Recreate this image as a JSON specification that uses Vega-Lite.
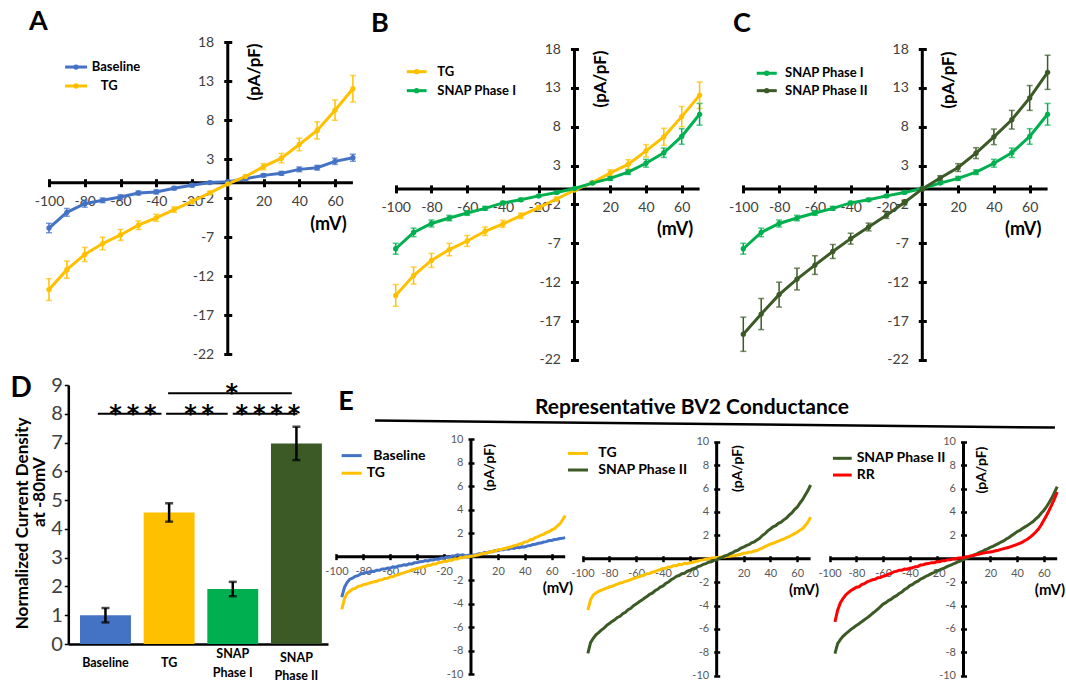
{
"$schema": "https://vega.github.io/schema/vega-lite/v6.json",
"width": 1066, "height": 684, "autosize": {"type": "none"}, "padding": 0,
"background": "white",
"config": {"view": {"stroke": null}, "font": "Lato", "axis": {"grid": false}},
"datasets": {
"iv": [
{"s":"Baseline","v":-100,"i":-5.81,"e":0.6},{"s":"Baseline","v":-90,"i":-3.8,"e":0.5},{"s":"Baseline","v":-80,"i":-2.69,"e":0.45},{"s":"Baseline","v":-70,"i":-2.26,"e":0.3},{"s":"Baseline","v":-60,"i":-1.84,"e":0.3},{"s":"Baseline","v":-50,"i":-1.32,"e":0.25},{"s":"Baseline","v":-40,"i":-1.18,"e":0.25},{"s":"Baseline","v":-30,"i":-0.7,"e":0.2},{"s":"Baseline","v":-20,"i":-0.32,"e":0.2},{"s":"Baseline","v":-10,"i":0.02,"e":0.15},{"s":"Baseline","v":0,"i":0.13,"e":0.15},{"s":"Baseline","v":10,"i":0.5,"e":0.15},{"s":"Baseline","v":20,"i":0.94,"e":0.2},{"s":"Baseline","v":30,"i":1.2,"e":0.25},{"s":"Baseline","v":40,"i":1.71,"e":0.3},{"s":"Baseline","v":50,"i":1.92,"e":0.3},{"s":"Baseline","v":60,"i":2.74,"e":0.4},{"s":"Baseline","v":70,"i":3.2,"e":0.45},
{"s":"TG","v":-100,"i":-13.7,"e":1.4},{"s":"TG","v":-90,"i":-11.15,"e":1.1},{"s":"TG","v":-80,"i":-9.2,"e":0.9},{"s":"TG","v":-70,"i":-7.8,"e":0.8},{"s":"TG","v":-60,"i":-6.7,"e":0.7},{"s":"TG","v":-50,"i":-5.45,"e":0.55},{"s":"TG","v":-40,"i":-4.5,"e":0.45},{"s":"TG","v":-30,"i":-3.45,"e":0.35},{"s":"TG","v":-20,"i":-2.4,"e":0.25},{"s":"TG","v":-10,"i":-1.3,"e":0.2},{"s":"TG","v":0,"i":-0.15,"e":0.15},{"s":"TG","v":10,"i":0.8,"e":0.2},{"s":"TG","v":20,"i":2.05,"e":0.4},{"s":"TG","v":30,"i":3.15,"e":0.6},{"s":"TG","v":40,"i":4.9,"e":0.8},{"s":"TG","v":50,"i":6.7,"e":1.1},{"s":"TG","v":60,"i":9.3,"e":1.3},{"s":"TG","v":70,"i":12.05,"e":1.7},
{"s":"SNAP Phase I","v":-100,"i":-7.7,"e":0.7},{"s":"SNAP Phase I","v":-90,"i":-5.6,"e":0.55},{"s":"SNAP Phase I","v":-80,"i":-4.45,"e":0.45},{"s":"SNAP Phase I","v":-70,"i":-3.75,"e":0.35},{"s":"SNAP Phase I","v":-60,"i":-3.1,"e":0.3},{"s":"SNAP Phase I","v":-50,"i":-2.5,"e":0.25},{"s":"SNAP Phase I","v":-40,"i":-1.8,"e":0.2},{"s":"SNAP Phase I","v":-30,"i":-1.4,"e":0.2},{"s":"SNAP Phase I","v":-20,"i":-0.9,"e":0.15},{"s":"SNAP Phase I","v":-10,"i":-0.45,"e":0.15},{"s":"SNAP Phase I","v":0,"i":0.05,"e":0.1},{"s":"SNAP Phase I","v":10,"i":0.75,"e":0.15},{"s":"SNAP Phase I","v":20,"i":1.35,"e":0.25},{"s":"SNAP Phase I","v":30,"i":2.15,"e":0.3},{"s":"SNAP Phase I","v":40,"i":3.3,"e":0.5},{"s":"SNAP Phase I","v":50,"i":4.65,"e":0.6},{"s":"SNAP Phase I","v":60,"i":6.75,"e":1.0},{"s":"SNAP Phase I","v":70,"i":9.6,"e":1.4},
{"s":"SNAP Phase II","v":-100,"i":-18.7,"e":2.2},{"s":"SNAP Phase II","v":-90,"i":-16.1,"e":2.0},{"s":"SNAP Phase II","v":-80,"i":-13.6,"e":1.6},{"s":"SNAP Phase II","v":-70,"i":-11.6,"e":1.4},{"s":"SNAP Phase II","v":-60,"i":-9.8,"e":1.2},{"s":"SNAP Phase II","v":-50,"i":-8.05,"e":0.9},{"s":"SNAP Phase II","v":-40,"i":-6.4,"e":0.7},{"s":"SNAP Phase II","v":-30,"i":-4.9,"e":0.5},{"s":"SNAP Phase II","v":-20,"i":-3.4,"e":0.4},{"s":"SNAP Phase II","v":-10,"i":-1.75,"e":0.3},{"s":"SNAP Phase II","v":0,"i":0.0,"e":0.2},{"s":"SNAP Phase II","v":10,"i":1.4,"e":0.3},{"s":"SNAP Phase II","v":20,"i":2.75,"e":0.5},{"s":"SNAP Phase II","v":30,"i":4.6,"e":0.7},{"s":"SNAP Phase II","v":40,"i":6.7,"e":1.0},{"s":"SNAP Phase II","v":50,"i":8.9,"e":1.2},{"s":"SNAP Phase II","v":60,"i":11.7,"e":1.6},{"s":"SNAP Phase II","v":70,"i":15.0,"e":2.2}
],
"bars": [
{"s":"Baseline","m":1.0,"e":0.25},{"s":"TG","m":4.57,"e":0.32},{"s":"SNAP Phase I","m":1.91,"e":0.25},{"s":"SNAP Phase II","m":6.97,"e":0.58}
],
"trace": [
{"p":"E1","s":"Baseline","v":-96,"i":-3.45},{"p":"E1","s":"Baseline","v":-94,"i":-2.62},{"p":"E1","s":"Baseline","v":-92,"i":-2.18},{"p":"E1","s":"Baseline","v":-90,"i":-1.92},{"p":"E1","s":"Baseline","v":-88,"i":-1.84},{"p":"E1","s":"Baseline","v":-86,"i":-1.68},{"p":"E1","s":"Baseline","v":-84,"i":-1.62},{"p":"E1","s":"Baseline","v":-82,"i":-1.47},{"p":"E1","s":"Baseline","v":-80,"i":-1.42},{"p":"E1","s":"Baseline","v":-78,"i":-1.36},{"p":"E1","s":"Baseline","v":-76,"i":-1.33},{"p":"E1","s":"Baseline","v":-74,"i":-1.24},{"p":"E1","s":"Baseline","v":-72,"i":-1.26},{"p":"E1","s":"Baseline","v":-70,"i":-1.15},{"p":"E1","s":"Baseline","v":-68,"i":-1.16},{"p":"E1","s":"Baseline","v":-66,"i":-1.05},{"p":"E1","s":"Baseline","v":-64,"i":-1.06},{"p":"E1","s":"Baseline","v":-62,"i":-0.97},{"p":"E1","s":"Baseline","v":-60,"i":-0.98},{"p":"E1","s":"Baseline","v":-58,"i":-0.87},{"p":"E1","s":"Baseline","v":-56,"i":-0.9},{"p":"E1","s":"Baseline","v":-54,"i":-0.8},{"p":"E1","s":"Baseline","v":-52,"i":-0.78},{"p":"E1","s":"Baseline","v":-50,"i":-0.7},{"p":"E1","s":"Baseline","v":-48,"i":-0.72},{"p":"E1","s":"Baseline","v":-46,"i":-0.61},{"p":"E1","s":"Baseline","v":-44,"i":-0.62},{"p":"E1","s":"Baseline","v":-42,"i":-0.52},{"p":"E1","s":"Baseline","v":-40,"i":-0.5},{"p":"E1","s":"Baseline","v":-38,"i":-0.44},{"p":"E1","s":"Baseline","v":-36,"i":-0.42},{"p":"E1","s":"Baseline","v":-34,"i":-0.34},{"p":"E1","s":"Baseline","v":-32,"i":-0.36},{"p":"E1","s":"Baseline","v":-30,"i":-0.27},{"p":"E1","s":"Baseline","v":-28,"i":-0.28},{"p":"E1","s":"Baseline","v":-26,"i":-0.2},{"p":"E1","s":"Baseline","v":-24,"i":-0.22},{"p":"E1","s":"Baseline","v":-22,"i":-0.12},{"p":"E1","s":"Baseline","v":-20,"i":-0.13},{"p":"E1","s":"Baseline","v":-18,"i":-0.04},{"p":"E1","s":"Baseline","v":-16,"i":-0.06},{"p":"E1","s":"Baseline","v":-14,"i":0.05},{"p":"E1","s":"Baseline","v":-12,"i":0.06},{"p":"E1","s":"Baseline","v":-10,"i":0.16},{"p":"E1","s":"Baseline","v":-8,"i":0.1},{"p":"E1","s":"Baseline","v":-6,"i":0.15},{"p":"E1","s":"Baseline","v":-4,"i":0.06},{"p":"E1","s":"Baseline","v":-2,"i":0.11},{"p":"E1","s":"Baseline","v":0,"i":0.05},{"p":"E1","s":"Baseline","v":2,"i":0.14},{"p":"E1","s":"Baseline","v":4,"i":0.16},{"p":"E1","s":"Baseline","v":6,"i":0.24},{"p":"E1","s":"Baseline","v":8,"i":0.24},{"p":"E1","s":"Baseline","v":10,"i":0.35},{"p":"E1","s":"Baseline","v":12,"i":0.32},{"p":"E1","s":"Baseline","v":14,"i":0.42},{"p":"E1","s":"Baseline","v":16,"i":0.42},{"p":"E1","s":"Baseline","v":18,"i":0.52},{"p":"E1","s":"Baseline","v":20,"i":0.5},{"p":"E1","s":"Baseline","v":22,"i":0.6},{"p":"E1","s":"Baseline","v":24,"i":0.58},{"p":"E1","s":"Baseline","v":26,"i":0.67},{"p":"E1","s":"Baseline","v":28,"i":0.64},{"p":"E1","s":"Baseline","v":30,"i":0.74},{"p":"E1","s":"Baseline","v":32,"i":0.7},{"p":"E1","s":"Baseline","v":34,"i":0.79},{"p":"E1","s":"Baseline","v":36,"i":0.76},{"p":"E1","s":"Baseline","v":38,"i":0.84},{"p":"E1","s":"Baseline","v":40,"i":0.83},{"p":"E1","s":"Baseline","v":42,"i":0.92},{"p":"E1","s":"Baseline","v":44,"i":0.94},{"p":"E1","s":"Baseline","v":46,"i":1.03},{"p":"E1","s":"Baseline","v":48,"i":1.06},{"p":"E1","s":"Baseline","v":50,"i":1.14},{"p":"E1","s":"Baseline","v":52,"i":1.16},{"p":"E1","s":"Baseline","v":54,"i":1.25},{"p":"E1","s":"Baseline","v":56,"i":1.28},{"p":"E1","s":"Baseline","v":58,"i":1.37},{"p":"E1","s":"Baseline","v":60,"i":1.38},{"p":"E1","s":"Baseline","v":62,"i":1.46},{"p":"E1","s":"Baseline","v":64,"i":1.48},{"p":"E1","s":"Baseline","v":66,"i":1.55},{"p":"E1","s":"Baseline","v":68,"i":1.56},{"p":"E1","s":"Baseline","v":70,"i":1.62},
{"p":"E1","s":"TG","v":-96,"i":-4.5},{"p":"E1","s":"TG","v":-94,"i":-3.58},{"p":"E1","s":"TG","v":-92,"i":-3.12},{"p":"E1","s":"TG","v":-90,"i":-2.95},{"p":"E1","s":"TG","v":-88,"i":-2.76},{"p":"E1","s":"TG","v":-86,"i":-2.7},{"p":"E1","s":"TG","v":-84,"i":-2.53},{"p":"E1","s":"TG","v":-82,"i":-2.5},{"p":"E1","s":"TG","v":-80,"i":-2.38},{"p":"E1","s":"TG","v":-78,"i":-2.35},{"p":"E1","s":"TG","v":-76,"i":-2.26},{"p":"E1","s":"TG","v":-74,"i":-2.21},{"p":"E1","s":"TG","v":-72,"i":-2.13},{"p":"E1","s":"TG","v":-70,"i":-2.1},{"p":"E1","s":"TG","v":-68,"i":-1.99},{"p":"E1","s":"TG","v":-66,"i":-1.97},{"p":"E1","s":"TG","v":-64,"i":-1.85},{"p":"E1","s":"TG","v":-62,"i":-1.84},{"p":"E1","s":"TG","v":-60,"i":-1.72},{"p":"E1","s":"TG","v":-58,"i":-1.71},{"p":"E1","s":"TG","v":-56,"i":-1.58},{"p":"E1","s":"TG","v":-54,"i":-1.54},{"p":"E1","s":"TG","v":-52,"i":-1.44},{"p":"E1","s":"TG","v":-50,"i":-1.38},{"p":"E1","s":"TG","v":-48,"i":-1.3},{"p":"E1","s":"TG","v":-46,"i":-1.24},{"p":"E1","s":"TG","v":-44,"i":-1.14},{"p":"E1","s":"TG","v":-42,"i":-1.08},{"p":"E1","s":"TG","v":-40,"i":-1.0},{"p":"E1","s":"TG","v":-38,"i":-0.96},{"p":"E1","s":"TG","v":-36,"i":-0.87},{"p":"E1","s":"TG","v":-34,"i":-0.84},{"p":"E1","s":"TG","v":-32,"i":-0.74},{"p":"E1","s":"TG","v":-30,"i":-0.73},{"p":"E1","s":"TG","v":-28,"i":-0.62},{"p":"E1","s":"TG","v":-26,"i":-0.62},{"p":"E1","s":"TG","v":-24,"i":-0.49},{"p":"E1","s":"TG","v":-22,"i":-0.48},{"p":"E1","s":"TG","v":-20,"i":-0.38},{"p":"E1","s":"TG","v":-18,"i":-0.4},{"p":"E1","s":"TG","v":-16,"i":-0.28},{"p":"E1","s":"TG","v":-14,"i":-0.3},{"p":"E1","s":"TG","v":-12,"i":-0.18},{"p":"E1","s":"TG","v":-10,"i":-0.2},{"p":"E1","s":"TG","v":-8,"i":-0.08},{"p":"E1","s":"TG","v":-6,"i":-0.1},{"p":"E1","s":"TG","v":-4,"i":0.0},{"p":"E1","s":"TG","v":-2,"i":0.0},{"p":"E1","s":"TG","v":0,"i":0.04},{"p":"E1","s":"TG","v":2,"i":0.06},{"p":"E1","s":"TG","v":4,"i":0.12},{"p":"E1","s":"TG","v":6,"i":0.16},{"p":"E1","s":"TG","v":8,"i":0.24},{"p":"E1","s":"TG","v":10,"i":0.26},{"p":"E1","s":"TG","v":12,"i":0.34},{"p":"E1","s":"TG","v":14,"i":0.38},{"p":"E1","s":"TG","v":16,"i":0.46},{"p":"E1","s":"TG","v":18,"i":0.48},{"p":"E1","s":"TG","v":20,"i":0.58},{"p":"E1","s":"TG","v":22,"i":0.6},{"p":"E1","s":"TG","v":24,"i":0.68},{"p":"E1","s":"TG","v":26,"i":0.72},{"p":"E1","s":"TG","v":28,"i":0.8},{"p":"E1","s":"TG","v":30,"i":0.84},{"p":"E1","s":"TG","v":32,"i":0.94},{"p":"E1","s":"TG","v":34,"i":0.98},{"p":"E1","s":"TG","v":36,"i":1.08},{"p":"E1","s":"TG","v":38,"i":1.12},{"p":"E1","s":"TG","v":40,"i":1.26},{"p":"E1","s":"TG","v":42,"i":1.28},{"p":"E1","s":"TG","v":44,"i":1.44},{"p":"E1","s":"TG","v":46,"i":1.48},{"p":"E1","s":"TG","v":48,"i":1.64},{"p":"E1","s":"TG","v":50,"i":1.7},{"p":"E1","s":"TG","v":52,"i":1.84},{"p":"E1","s":"TG","v":54,"i":1.9},{"p":"E1","s":"TG","v":56,"i":2.06},{"p":"E1","s":"TG","v":58,"i":2.12},{"p":"E1","s":"TG","v":60,"i":2.28},{"p":"E1","s":"TG","v":62,"i":2.38},{"p":"E1","s":"TG","v":64,"i":2.6},{"p":"E1","s":"TG","v":66,"i":2.78},{"p":"E1","s":"TG","v":68,"i":3.12},{"p":"E1","s":"TG","v":70,"i":3.5},
{"p":"E2","s":"TG","v":-96,"i":-4.4},{"p":"E2","s":"TG","v":-94,"i":-3.52},{"p":"E2","s":"TG","v":-92,"i":-3.1},{"p":"E2","s":"TG","v":-90,"i":-2.94},{"p":"E2","s":"TG","v":-88,"i":-2.78},{"p":"E2","s":"TG","v":-86,"i":-2.7},{"p":"E2","s":"TG","v":-84,"i":-2.6},{"p":"E2","s":"TG","v":-82,"i":-2.52},{"p":"E2","s":"TG","v":-80,"i":-2.42},{"p":"E2","s":"TG","v":-78,"i":-2.36},{"p":"E2","s":"TG","v":-76,"i":-2.26},{"p":"E2","s":"TG","v":-74,"i":-2.18},{"p":"E2","s":"TG","v":-72,"i":-2.08},{"p":"E2","s":"TG","v":-70,"i":-2.02},{"p":"E2","s":"TG","v":-68,"i":-1.94},{"p":"E2","s":"TG","v":-66,"i":-1.88},{"p":"E2","s":"TG","v":-64,"i":-1.78},{"p":"E2","s":"TG","v":-62,"i":-1.7},{"p":"E2","s":"TG","v":-60,"i":-1.62},{"p":"E2","s":"TG","v":-58,"i":-1.56},{"p":"E2","s":"TG","v":-56,"i":-1.46},{"p":"E2","s":"TG","v":-54,"i":-1.4},{"p":"E2","s":"TG","v":-52,"i":-1.28},{"p":"E2","s":"TG","v":-50,"i":-1.26},{"p":"E2","s":"TG","v":-48,"i":-1.16},{"p":"E2","s":"TG","v":-46,"i":-1.1},{"p":"E2","s":"TG","v":-44,"i":-1.0},{"p":"E2","s":"TG","v":-42,"i":-0.94},{"p":"E2","s":"TG","v":-40,"i":-0.84},{"p":"E2","s":"TG","v":-38,"i":-0.82},{"p":"E2","s":"TG","v":-36,"i":-0.7},{"p":"E2","s":"TG","v":-34,"i":-0.7},{"p":"E2","s":"TG","v":-32,"i":-0.58},{"p":"E2","s":"TG","v":-30,"i":-0.6},{"p":"E2","s":"TG","v":-28,"i":-0.48},{"p":"E2","s":"TG","v":-26,"i":-0.5},{"p":"E2","s":"TG","v":-24,"i":-0.4},{"p":"E2","s":"TG","v":-22,"i":-0.42},{"p":"E2","s":"TG","v":-20,"i":-0.34},{"p":"E2","s":"TG","v":-18,"i":-0.32},{"p":"E2","s":"TG","v":-16,"i":-0.24},{"p":"E2","s":"TG","v":-14,"i":-0.2},{"p":"E2","s":"TG","v":-12,"i":-0.12},{"p":"E2","s":"TG","v":-10,"i":-0.1},{"p":"E2","s":"TG","v":-8,"i":-0.02},{"p":"E2","s":"TG","v":-6,"i":0.0},{"p":"E2","s":"TG","v":-4,"i":0.06},{"p":"E2","s":"TG","v":-2,"i":0.06},{"p":"E2","s":"TG","v":0,"i":0.1},{"p":"E2","s":"TG","v":2,"i":0.1},{"p":"E2","s":"TG","v":4,"i":0.16},{"p":"E2","s":"TG","v":6,"i":0.14},{"p":"E2","s":"TG","v":8,"i":0.2},{"p":"E2","s":"TG","v":10,"i":0.2},{"p":"E2","s":"TG","v":12,"i":0.26},{"p":"E2","s":"TG","v":14,"i":0.28},{"p":"E2","s":"TG","v":16,"i":0.34},{"p":"E2","s":"TG","v":18,"i":0.38},{"p":"E2","s":"TG","v":20,"i":0.46},{"p":"E2","s":"TG","v":22,"i":0.48},{"p":"E2","s":"TG","v":24,"i":0.56},{"p":"E2","s":"TG","v":26,"i":0.58},{"p":"E2","s":"TG","v":28,"i":0.66},{"p":"E2","s":"TG","v":30,"i":0.7},{"p":"E2","s":"TG","v":32,"i":0.82},{"p":"E2","s":"TG","v":34,"i":0.9},{"p":"E2","s":"TG","v":36,"i":1.04},{"p":"E2","s":"TG","v":38,"i":1.14},{"p":"E2","s":"TG","v":40,"i":1.24},{"p":"E2","s":"TG","v":42,"i":1.32},{"p":"E2","s":"TG","v":44,"i":1.42},{"p":"E2","s":"TG","v":46,"i":1.5},{"p":"E2","s":"TG","v":48,"i":1.6},{"p":"E2","s":"TG","v":50,"i":1.68},{"p":"E2","s":"TG","v":52,"i":1.8},{"p":"E2","s":"TG","v":54,"i":1.88},{"p":"E2","s":"TG","v":56,"i":2.02},{"p":"E2","s":"TG","v":58,"i":2.14},{"p":"E2","s":"TG","v":60,"i":2.26},{"p":"E2","s":"TG","v":62,"i":2.44},{"p":"E2","s":"TG","v":64,"i":2.56},{"p":"E2","s":"TG","v":66,"i":2.84},{"p":"E2","s":"TG","v":68,"i":3.12},{"p":"E2","s":"TG","v":70,"i":3.55},
{"p":"E2","s":"SNAP Phase II","v":-96,"i":-8.1},{"p":"E2","s":"SNAP Phase II","v":-94,"i":-7.18},{"p":"E2","s":"SNAP Phase II","v":-92,"i":-6.8},{"p":"E2","s":"SNAP Phase II","v":-90,"i":-6.5},{"p":"E2","s":"SNAP Phase II","v":-88,"i":-6.32},{"p":"E2","s":"SNAP Phase II","v":-86,"i":-6.1},{"p":"E2","s":"SNAP Phase II","v":-84,"i":-5.94},{"p":"E2","s":"SNAP Phase II","v":-82,"i":-5.7},{"p":"E2","s":"SNAP Phase II","v":-80,"i":-5.54},{"p":"E2","s":"SNAP Phase II","v":-78,"i":-5.36},{"p":"E2","s":"SNAP Phase II","v":-76,"i":-5.22},{"p":"E2","s":"SNAP Phase II","v":-74,"i":-5.02},{"p":"E2","s":"SNAP Phase II","v":-72,"i":-4.92},{"p":"E2","s":"SNAP Phase II","v":-70,"i":-4.7},{"p":"E2","s":"SNAP Phase II","v":-68,"i":-4.58},{"p":"E2","s":"SNAP Phase II","v":-66,"i":-4.36},{"p":"E2","s":"SNAP Phase II","v":-64,"i":-4.24},{"p":"E2","s":"SNAP Phase II","v":-62,"i":-4.02},{"p":"E2","s":"SNAP Phase II","v":-60,"i":-3.88},{"p":"E2","s":"SNAP Phase II","v":-58,"i":-3.7},{"p":"E2","s":"SNAP Phase II","v":-56,"i":-3.56},{"p":"E2","s":"SNAP Phase II","v":-54,"i":-3.38},{"p":"E2","s":"SNAP Phase II","v":-52,"i":-3.24},{"p":"E2","s":"SNAP Phase II","v":-50,"i":-3.04},{"p":"E2","s":"SNAP Phase II","v":-48,"i":-2.94},{"p":"E2","s":"SNAP Phase II","v":-46,"i":-2.74},{"p":"E2","s":"SNAP Phase II","v":-44,"i":-2.62},{"p":"E2","s":"SNAP Phase II","v":-42,"i":-2.42},{"p":"E2","s":"SNAP Phase II","v":-40,"i":-2.32},{"p":"E2","s":"SNAP Phase II","v":-38,"i":-2.12},{"p":"E2","s":"SNAP Phase II","v":-36,"i":-2.0},{"p":"E2","s":"SNAP Phase II","v":-34,"i":-1.8},{"p":"E2","s":"SNAP Phase II","v":-32,"i":-1.68},{"p":"E2","s":"SNAP Phase II","v":-30,"i":-1.5},{"p":"E2","s":"SNAP Phase II","v":-28,"i":-1.44},{"p":"E2","s":"SNAP Phase II","v":-26,"i":-1.28},{"p":"E2","s":"SNAP Phase II","v":-24,"i":-1.24},{"p":"E2","s":"SNAP Phase II","v":-22,"i":-1.08},{"p":"E2","s":"SNAP Phase II","v":-20,"i":-1.02},{"p":"E2","s":"SNAP Phase II","v":-18,"i":-0.88},{"p":"E2","s":"SNAP Phase II","v":-16,"i":-0.82},{"p":"E2","s":"SNAP Phase II","v":-14,"i":-0.68},{"p":"E2","s":"SNAP Phase II","v":-12,"i":-0.62},{"p":"E2","s":"SNAP Phase II","v":-10,"i":-0.48},{"p":"E2","s":"SNAP Phase II","v":-8,"i":-0.42},{"p":"E2","s":"SNAP Phase II","v":-6,"i":-0.3},{"p":"E2","s":"SNAP Phase II","v":-4,"i":-0.26},{"p":"E2","s":"SNAP Phase II","v":-2,"i":-0.14},{"p":"E2","s":"SNAP Phase II","v":0,"i":-0.1},{"p":"E2","s":"SNAP Phase II","v":2,"i":0.04},{"p":"E2","s":"SNAP Phase II","v":4,"i":0.1},{"p":"E2","s":"SNAP Phase II","v":6,"i":0.24},{"p":"E2","s":"SNAP Phase II","v":8,"i":0.3},{"p":"E2","s":"SNAP Phase II","v":10,"i":0.44},{"p":"E2","s":"SNAP Phase II","v":12,"i":0.52},{"p":"E2","s":"SNAP Phase II","v":14,"i":0.66},{"p":"E2","s":"SNAP Phase II","v":16,"i":0.74},{"p":"E2","s":"SNAP Phase II","v":18,"i":0.9},{"p":"E2","s":"SNAP Phase II","v":20,"i":0.98},{"p":"E2","s":"SNAP Phase II","v":22,"i":1.12},{"p":"E2","s":"SNAP Phase II","v":24,"i":1.2},{"p":"E2","s":"SNAP Phase II","v":26,"i":1.36},{"p":"E2","s":"SNAP Phase II","v":28,"i":1.44},{"p":"E2","s":"SNAP Phase II","v":30,"i":1.6},{"p":"E2","s":"SNAP Phase II","v":32,"i":1.74},{"p":"E2","s":"SNAP Phase II","v":34,"i":1.98},{"p":"E2","s":"SNAP Phase II","v":36,"i":2.14},{"p":"E2","s":"SNAP Phase II","v":38,"i":2.38},{"p":"E2","s":"SNAP Phase II","v":40,"i":2.54},{"p":"E2","s":"SNAP Phase II","v":42,"i":2.72},{"p":"E2","s":"SNAP Phase II","v":44,"i":2.82},{"p":"E2","s":"SNAP Phase II","v":46,"i":3.02},{"p":"E2","s":"SNAP Phase II","v":48,"i":3.12},{"p":"E2","s":"SNAP Phase II","v":50,"i":3.32},{"p":"E2","s":"SNAP Phase II","v":52,"i":3.48},{"p":"E2","s":"SNAP Phase II","v":54,"i":3.72},{"p":"E2","s":"SNAP Phase II","v":56,"i":3.92},{"p":"E2","s":"SNAP Phase II","v":58,"i":4.2},{"p":"E2","s":"SNAP Phase II","v":60,"i":4.4},{"p":"E2","s":"SNAP Phase II","v":62,"i":4.74},{"p":"E2","s":"SNAP Phase II","v":64,"i":5.04},{"p":"E2","s":"SNAP Phase II","v":66,"i":5.44},{"p":"E2","s":"SNAP Phase II","v":68,"i":5.82},{"p":"E2","s":"SNAP Phase II","v":70,"i":6.3},
{"p":"E3","s":"SNAP Phase II","v":-96,"i":-8.12},{"p":"E3","s":"SNAP Phase II","v":-94,"i":-7.26},{"p":"E3","s":"SNAP Phase II","v":-92,"i":-6.92},{"p":"E3","s":"SNAP Phase II","v":-90,"i":-6.64},{"p":"E3","s":"SNAP Phase II","v":-88,"i":-6.42},{"p":"E3","s":"SNAP Phase II","v":-86,"i":-6.24},{"p":"E3","s":"SNAP Phase II","v":-84,"i":-6.04},{"p":"E3","s":"SNAP Phase II","v":-82,"i":-5.88},{"p":"E3","s":"SNAP Phase II","v":-80,"i":-5.7},{"p":"E3","s":"SNAP Phase II","v":-78,"i":-5.56},{"p":"E3","s":"SNAP Phase II","v":-76,"i":-5.38},{"p":"E3","s":"SNAP Phase II","v":-74,"i":-5.22},{"p":"E3","s":"SNAP Phase II","v":-72,"i":-5.06},{"p":"E3","s":"SNAP Phase II","v":-70,"i":-4.88},{"p":"E3","s":"SNAP Phase II","v":-68,"i":-4.68},{"p":"E3","s":"SNAP Phase II","v":-66,"i":-4.5},{"p":"E3","s":"SNAP Phase II","v":-64,"i":-4.3},{"p":"E3","s":"SNAP Phase II","v":-62,"i":-4.1},{"p":"E3","s":"SNAP Phase II","v":-60,"i":-3.88},{"p":"E3","s":"SNAP Phase II","v":-58,"i":-3.76},{"p":"E3","s":"SNAP Phase II","v":-56,"i":-3.58},{"p":"E3","s":"SNAP Phase II","v":-54,"i":-3.46},{"p":"E3","s":"SNAP Phase II","v":-52,"i":-3.28},{"p":"E3","s":"SNAP Phase II","v":-50,"i":-3.16},{"p":"E3","s":"SNAP Phase II","v":-48,"i":-2.98},{"p":"E3","s":"SNAP Phase II","v":-46,"i":-2.84},{"p":"E3","s":"SNAP Phase II","v":-44,"i":-2.64},{"p":"E3","s":"SNAP Phase II","v":-42,"i":-2.5},{"p":"E3","s":"SNAP Phase II","v":-40,"i":-2.3},{"p":"E3","s":"SNAP Phase II","v":-38,"i":-2.2},{"p":"E3","s":"SNAP Phase II","v":-36,"i":-2.02},{"p":"E3","s":"SNAP Phase II","v":-34,"i":-1.92},{"p":"E3","s":"SNAP Phase II","v":-32,"i":-1.74},{"p":"E3","s":"SNAP Phase II","v":-30,"i":-1.64},{"p":"E3","s":"SNAP Phase II","v":-28,"i":-1.5},{"p":"E3","s":"SNAP Phase II","v":-26,"i":-1.4},{"p":"E3","s":"SNAP Phase II","v":-24,"i":-1.28},{"p":"E3","s":"SNAP Phase II","v":-22,"i":-1.18},{"p":"E3","s":"SNAP Phase II","v":-20,"i":-1.06},{"p":"E3","s":"SNAP Phase II","v":-18,"i":-0.98},{"p":"E3","s":"SNAP Phase II","v":-16,"i":-0.86},{"p":"E3","s":"SNAP Phase II","v":-14,"i":-0.78},{"p":"E3","s":"SNAP Phase II","v":-12,"i":-0.66},{"p":"E3","s":"SNAP Phase II","v":-10,"i":-0.58},{"p":"E3","s":"SNAP Phase II","v":-8,"i":-0.46},{"p":"E3","s":"SNAP Phase II","v":-6,"i":-0.38},{"p":"E3","s":"SNAP Phase II","v":-4,"i":-0.26},{"p":"E3","s":"SNAP Phase II","v":-2,"i":-0.18},{"p":"E3","s":"SNAP Phase II","v":0,"i":-0.08},{"p":"E3","s":"SNAP Phase II","v":2,"i":0.02},{"p":"E3","s":"SNAP Phase II","v":4,"i":0.12},{"p":"E3","s":"SNAP Phase II","v":6,"i":0.2},{"p":"E3","s":"SNAP Phase II","v":8,"i":0.32},{"p":"E3","s":"SNAP Phase II","v":10,"i":0.42},{"p":"E3","s":"SNAP Phase II","v":12,"i":0.54},{"p":"E3","s":"SNAP Phase II","v":14,"i":0.62},{"p":"E3","s":"SNAP Phase II","v":16,"i":0.76},{"p":"E3","s":"SNAP Phase II","v":18,"i":0.84},{"p":"E3","s":"SNAP Phase II","v":20,"i":0.96},{"p":"E3","s":"SNAP Phase II","v":22,"i":1.06},{"p":"E3","s":"SNAP Phase II","v":24,"i":1.18},{"p":"E3","s":"SNAP Phase II","v":26,"i":1.28},{"p":"E3","s":"SNAP Phase II","v":28,"i":1.42},{"p":"E3","s":"SNAP Phase II","v":30,"i":1.52},{"p":"E3","s":"SNAP Phase II","v":32,"i":1.68},{"p":"E3","s":"SNAP Phase II","v":34,"i":1.82},{"p":"E3","s":"SNAP Phase II","v":36,"i":1.98},{"p":"E3","s":"SNAP Phase II","v":38,"i":2.14},{"p":"E3","s":"SNAP Phase II","v":40,"i":2.3},{"p":"E3","s":"SNAP Phase II","v":42,"i":2.42},{"p":"E3","s":"SNAP Phase II","v":44,"i":2.58},{"p":"E3","s":"SNAP Phase II","v":46,"i":2.72},{"p":"E3","s":"SNAP Phase II","v":48,"i":2.86},{"p":"E3","s":"SNAP Phase II","v":50,"i":3.02},{"p":"E3","s":"SNAP Phase II","v":52,"i":3.18},{"p":"E3","s":"SNAP Phase II","v":54,"i":3.4},{"p":"E3","s":"SNAP Phase II","v":56,"i":3.6},{"p":"E3","s":"SNAP Phase II","v":58,"i":3.88},{"p":"E3","s":"SNAP Phase II","v":60,"i":4.12},{"p":"E3","s":"SNAP Phase II","v":62,"i":4.44},{"p":"E3","s":"SNAP Phase II","v":64,"i":4.8},{"p":"E3","s":"SNAP Phase II","v":66,"i":5.2},{"p":"E3","s":"SNAP Phase II","v":68,"i":5.66},{"p":"E3","s":"SNAP Phase II","v":70,"i":6.16},
{"p":"E3","s":"RR","v":-96,"i":-5.4},{"p":"E3","s":"RR","v":-94,"i":-4.4},{"p":"E3","s":"RR","v":-92,"i":-3.78},{"p":"E3","s":"RR","v":-90,"i":-3.4},{"p":"E3","s":"RR","v":-88,"i":-3.1},{"p":"E3","s":"RR","v":-86,"i":-2.9},{"p":"E3","s":"RR","v":-84,"i":-2.72},{"p":"E3","s":"RR","v":-82,"i":-2.58},{"p":"E3","s":"RR","v":-80,"i":-2.44},{"p":"E3","s":"RR","v":-78,"i":-2.4},{"p":"E3","s":"RR","v":-76,"i":-2.22},{"p":"E3","s":"RR","v":-74,"i":-2.14},{"p":"E3","s":"RR","v":-72,"i":-1.98},{"p":"E3","s":"RR","v":-70,"i":-1.9},{"p":"E3","s":"RR","v":-68,"i":-1.8},{"p":"E3","s":"RR","v":-66,"i":-1.76},{"p":"E3","s":"RR","v":-64,"i":-1.62},{"p":"E3","s":"RR","v":-62,"i":-1.6},{"p":"E3","s":"RR","v":-60,"i":-1.5},{"p":"E3","s":"RR","v":-58,"i":-1.44},{"p":"E3","s":"RR","v":-56,"i":-1.32},{"p":"E3","s":"RR","v":-54,"i":-1.26},{"p":"E3","s":"RR","v":-52,"i":-1.12},{"p":"E3","s":"RR","v":-50,"i":-1.08},{"p":"E3","s":"RR","v":-48,"i":-0.98},{"p":"E3","s":"RR","v":-46,"i":-0.98},{"p":"E3","s":"RR","v":-44,"i":-0.88},{"p":"E3","s":"RR","v":-42,"i":-0.9},{"p":"E3","s":"RR","v":-40,"i":-0.82},{"p":"E3","s":"RR","v":-38,"i":-0.78},{"p":"E3","s":"RR","v":-36,"i":-0.68},{"p":"E3","s":"RR","v":-34,"i":-0.66},{"p":"E3","s":"RR","v":-32,"i":-0.54},{"p":"E3","s":"RR","v":-30,"i":-0.52},{"p":"E3","s":"RR","v":-28,"i":-0.44},{"p":"E3","s":"RR","v":-26,"i":-0.42},{"p":"E3","s":"RR","v":-24,"i":-0.34},{"p":"E3","s":"RR","v":-22,"i":-0.34},{"p":"E3","s":"RR","v":-20,"i":-0.26},{"p":"E3","s":"RR","v":-18,"i":-0.26},{"p":"E3","s":"RR","v":-16,"i":-0.18},{"p":"E3","s":"RR","v":-14,"i":-0.18},{"p":"E3","s":"RR","v":-12,"i":-0.1},{"p":"E3","s":"RR","v":-10,"i":-0.1},{"p":"E3","s":"RR","v":-8,"i":-0.02},{"p":"E3","s":"RR","v":-6,"i":-0.02},{"p":"E3","s":"RR","v":-4,"i":0.06},{"p":"E3","s":"RR","v":-2,"i":0.06},{"p":"E3","s":"RR","v":0,"i":0.1},{"p":"E3","s":"RR","v":2,"i":0.16},{"p":"E3","s":"RR","v":4,"i":0.2},{"p":"E3","s":"RR","v":6,"i":0.26},{"p":"E3","s":"RR","v":8,"i":0.3},{"p":"E3","s":"RR","v":10,"i":0.36},{"p":"E3","s":"RR","v":12,"i":0.4},{"p":"E3","s":"RR","v":14,"i":0.46},{"p":"E3","s":"RR","v":16,"i":0.5},{"p":"E3","s":"RR","v":18,"i":0.54},{"p":"E3","s":"RR","v":20,"i":0.58},{"p":"E3","s":"RR","v":22,"i":0.62},{"p":"E3","s":"RR","v":24,"i":0.68},{"p":"E3","s":"RR","v":26,"i":0.72},{"p":"E3","s":"RR","v":28,"i":0.8},{"p":"E3","s":"RR","v":30,"i":0.86},{"p":"E3","s":"RR","v":32,"i":0.92},{"p":"E3","s":"RR","v":34,"i":0.98},{"p":"E3","s":"RR","v":36,"i":1.06},{"p":"E3","s":"RR","v":38,"i":1.14},{"p":"E3","s":"RR","v":40,"i":1.22},{"p":"E3","s":"RR","v":42,"i":1.32},{"p":"E3","s":"RR","v":44,"i":1.42},{"p":"E3","s":"RR","v":46,"i":1.56},{"p":"E3","s":"RR","v":48,"i":1.68},{"p":"E3","s":"RR","v":50,"i":1.86},{"p":"E3","s":"RR","v":52,"i":2.06},{"p":"E3","s":"RR","v":54,"i":2.28},{"p":"E3","s":"RR","v":56,"i":2.54},{"p":"E3","s":"RR","v":58,"i":2.88},{"p":"E3","s":"RR","v":60,"i":3.28},{"p":"E3","s":"RR","v":62,"i":3.7},{"p":"E3","s":"RR","v":64,"i":4.14},{"p":"E3","s":"RR","v":66,"i":4.62},{"p":"E3","s":"RR","v":68,"i":5.14},{"p":"E3","s":"RR","v":70,"i":5.7}
]
},
"resolve": {"scale": {"x": "independent", "y": "independent"}},
"layer": [
{
"layer": [
{"data": {"values": [{}]}, "layer": [
{"mark": {"type": "rule", "strokeWidth": 3, "color": "black"}, "encoding": {"x": {"datum": -100}, "x2": {"datum": 70}, "y": {"datum": 0}}},
{"mark": {"type": "rule", "strokeWidth": 3, "color": "black"}, "encoding": {"x": {"datum": 0}, "y": {"datum": -22}, "y2": {"datum": 18}}},
{"mark": {"type": "text", "text": "A", "fontSize": 27, "fontWeight": "bold", "align": "center", "baseline": "middle", "color": "black"}, "encoding": {"x": {"datum": -105.9}, "y": {"datum": 20.54}}},
{"mark": {"type": "text", "text": "(pA/pF)", "fontSize": 17, "fontWeight": "bold", "align": "center", "baseline": "middle", "angle": 270, "color": "black"}, "encoding": {"x": {"datum": 15.2}, "y": {"datum": 14.2}}},
{"mark": {"type": "text", "text": "(mV)", "fontSize": 18, "fontWeight": "bold", "align": "center", "baseline": "middle", "color": "black"}, "encoding": {"x": {"datum": 56.3}, "y": {"datum": -5.42}}}
]},
{"data": {"name": "iv"}, "transform": [{"filter": {"field": "s", "oneOf": ["Baseline", "TG"]}}],
"encoding": {
"x": {"field": "v", "type": "quantitative", "scale": {"domain": [-100, 70], "range": [49, 352.9], "nice": false, "zero": false}, "axis": {"orient": "bottom", "offset": -505.3, "title": null, "values": [-100,-80,-60,-40,-20,20,40,60], "labelExpr": "'' + datum.value", "domain": false, "grid": false, "tickSize": 8, "tickWidth": 3, "tickColor": "black", "labelFontSize": 14, "labelColor": "#404040", "labelPadding": 8, "labelOverlap": false, "labelFlush": false, "labelBound": false}},
"y": {"field": "i", "type": "quantitative", "scale": {"domain": [-22, 18], "range": [354.3, 42.3], "nice": false, "zero": false}, "axis": {"orient": "left", "offset": -231.75, "title": null, "values": [-22,-17,-12,-7,-2,3,8,13,18], "labelExpr": "'' + datum.value", "domain": false, "grid": false, "tickSize": 8, "tickWidth": 3, "tickColor": "black", "labelFontSize": 14, "labelColor": "#404040", "labelPadding": 10, "labelOverlap": false, "labelFlush": false, "labelBound": false}},
"color": {"field": "s", "type": "nominal", "scale": {"domain": ["Baseline","TG","SNAP Phase I","SNAP Phase II","RR"], "range": ["#4472C4","#FFC000","#00B050","#3B5A26","#FF0000"]}, "legend": null}
},
"layer": [
{"mark": {"type": "errorbar", "ticks": true, "thickness": 1.5, "size": 6}, "encoding": {"yError": {"field": "e"}}},
{"mark": {"type": "line", "strokeWidth": 3}},
{"mark": {"type": "point", "filled": true, "size": 28, "opacity": 1}}
]},
{"data": {"values": [{"s": "Baseline"}]}, "encoding": {"y": {"datum": 14.83}, "color": {"field": "s", "type": "nominal", "legend": null}}, "layer": [
{"mark": {"type": "rule", "strokeWidth": 3}, "encoding": {"x": {"datum": -91}, "x2": {"datum": -78.7}}},
{"mark": {"type": "point", "filled": true, "size": 28, "opacity": 1}, "encoding": {"x": {"datum": -84.9}}},
{"mark": {"type": "text", "align": "left", "baseline": "middle", "fontSize": 13, "fontWeight": "bold"}, "encoding": {"x": {"datum": -76.1}, "text": {"field": "s"}, "color": {"value": "black"}}}
]},
{"data": {"values": [{"s": "TG"}]}, "encoding": {"y": {"datum": 12.4}, "color": {"field": "s", "type": "nominal", "legend": null}}, "layer": [
{"mark": {"type": "rule", "strokeWidth": 3}, "encoding": {"x": {"datum": -91}, "x2": {"datum": -78.7}}},
{"mark": {"type": "point", "filled": true, "size": 28, "opacity": 1}, "encoding": {"x": {"datum": -84.9}}},
{"mark": {"type": "text", "align": "left", "baseline": "middle", "fontSize": 13, "fontWeight": "bold"}, "encoding": {"x": {"datum": -71.1}, "text": {"field": "s"}, "color": {"value": "black"}}}
]}
]
},
{
"layer": [
{"data": {"values": [{}]}, "layer": [
{"mark": {"type": "rule", "strokeWidth": 3, "color": "black"}, "encoding": {"x": {"datum": -100}, "x2": {"datum": 70}, "y": {"datum": 0}}},
{"mark": {"type": "rule", "strokeWidth": 3, "color": "black"}, "encoding": {"x": {"datum": 0}, "y": {"datum": -22}, "y2": {"datum": 18}}},
{"mark": {"type": "text", "text": "B", "fontSize": 27, "fontWeight": "bold", "align": "center", "baseline": "middle", "color": "black"}, "encoding": {"x": {"datum": -108.8}, "y": {"datum": 21.2}}},
{"mark": {"type": "text", "text": "(pA/pF)", "fontSize": 17, "fontWeight": "bold", "align": "center", "baseline": "middle", "angle": 270, "color": "black"}, "encoding": {"x": {"datum": 14.85}, "y": {"datum": 14.14}}},
{"mark": {"type": "text", "text": "(mV)", "fontSize": 18, "fontWeight": "bold", "align": "center", "baseline": "middle", "color": "black"}, "encoding": {"x": {"datum": 56.3}, "y": {"datum": -5.29}}}
]},
{"data": {"name": "iv"}, "transform": [{"filter": {"field": "s", "oneOf": ["TG", "SNAP Phase I"]}}],
"encoding": {
"x": {"field": "v", "type": "quantitative", "scale": {"domain": [-100, 70], "range": [395.7, 699.6], "nice": false, "zero": false}, "axis": {"orient": "bottom", "offset": -499.1, "title": null, "values": [-100,-80,-60,-40,-20,20,40,60], "labelExpr": "'' + datum.value", "domain": false, "grid": false, "tickSize": 8, "tickWidth": 3, "tickColor": "black", "labelFontSize": 14, "labelColor": "#404040", "labelPadding": 8, "labelOverlap": false, "labelFlush": false, "labelBound": false}},
"y": {"field": "i", "type": "quantitative", "scale": {"domain": [-22, 18], "range": [359.9, 49], "nice": false, "zero": false}, "axis": {"orient": "left", "offset": -578.45, "title": null, "values": [-22,-17,-12,-7,-2,3,8,13,18], "labelExpr": "'' + datum.value", "domain": false, "grid": false, "tickSize": 8, "tickWidth": 3, "tickColor": "black", "labelFontSize": 14, "labelColor": "#404040", "labelPadding": 10, "labelOverlap": false, "labelFlush": false, "labelBound": false}},
"color": {"field": "s", "type": "nominal", "scale": {"domain": ["Baseline","TG","SNAP Phase I","SNAP Phase II","RR"], "range": ["#4472C4","#FFC000","#00B050","#3B5A26","#FF0000"]}, "legend": null}
},
"layer": [
{"mark": {"type": "errorbar", "ticks": true, "thickness": 1.5, "size": 6}, "encoding": {"yError": {"field": "e"}}},
{"mark": {"type": "line", "strokeWidth": 3}},
{"mark": {"type": "point", "filled": true, "size": 28, "opacity": 1}}
]},
{"data": {"values": [{"s": "TG"}]}, "encoding": {"y": {"datum": 15.08}, "color": {"field": "s", "type": "nominal", "legend": null}}, "layer": [
{"mark": {"type": "rule", "strokeWidth": 3}, "encoding": {"x": {"datum": -93.8}, "x2": {"datum": -82.7}}},
{"mark": {"type": "point", "filled": true, "size": 28, "opacity": 1}, "encoding": {"x": {"datum": -88.3}}},
{"mark": {"type": "text", "align": "left", "baseline": "middle", "fontSize": 13, "fontWeight": "bold"}, "encoding": {"x": {"datum": -76.7}, "text": {"field": "s"}, "color": {"value": "black"}}}
]},
{"data": {"values": [{"s": "SNAP Phase I"}]}, "encoding": {"y": {"datum": 12.64}, "color": {"field": "s", "type": "nominal", "legend": null}}, "layer": [
{"mark": {"type": "rule", "strokeWidth": 3}, "encoding": {"x": {"datum": -93.8}, "x2": {"datum": -82.7}}},
{"mark": {"type": "point", "filled": true, "size": 28, "opacity": 1}, "encoding": {"x": {"datum": -88.3}}},
{"mark": {"type": "text", "align": "left", "baseline": "middle", "fontSize": 13, "fontWeight": "bold"}, "encoding": {"x": {"datum": -76.7}, "text": {"field": "s"}, "color": {"value": "black"}}}
]}
]
},
{
"layer": [
{"data": {"values": [{}]}, "layer": [
{"mark": {"type": "rule", "strokeWidth": 3, "color": "black"}, "encoding": {"x": {"datum": -100}, "x2": {"datum": 70}, "y": {"datum": 0}}},
{"mark": {"type": "rule", "strokeWidth": 3, "color": "black"}, "encoding": {"x": {"datum": 0}, "y": {"datum": -22}, "y2": {"datum": 18}}},
{"mark": {"type": "text", "text": "C", "fontSize": 27, "fontWeight": "bold", "align": "center", "baseline": "middle", "color": "black"}, "encoding": {"x": {"datum": -100.7}, "y": {"datum": 21.2}}},
{"mark": {"type": "text", "text": "(pA/pF)", "fontSize": 17, "fontWeight": "bold", "align": "center", "baseline": "middle", "angle": 270, "color": "black"}, "encoding": {"x": {"datum": 14.9}, "y": {"datum": 14.0}}},
{"mark": {"type": "text", "text": "(mV)", "fontSize": 18, "fontWeight": "bold", "align": "center", "baseline": "middle", "color": "black"}, "encoding": {"x": {"datum": 56.4}, "y": {"datum": -5.29}}}
]},
{"data": {"name": "iv"}, "transform": [{"filter": {"field": "s", "oneOf": ["SNAP Phase I", "SNAP Phase II"]}}],
"encoding": {
"x": {"field": "v", "type": "quantitative", "scale": {"domain": [-100, 70], "range": [743.3, 1047.6], "nice": false, "zero": false}, "axis": {"orient": "bottom", "offset": -499.1, "title": null, "values": [-100,-80,-60,-40,-20,20,40,60], "labelExpr": "'' + datum.value", "domain": false, "grid": false, "tickSize": 8, "tickWidth": 3, "tickColor": "black", "labelFontSize": 14, "labelColor": "#404040", "labelPadding": 8, "labelOverlap": false, "labelFlush": false, "labelBound": false}},
"y": {"field": "i", "type": "quantitative", "scale": {"domain": [-22, 18], "range": [359.9, 49], "nice": false, "zero": false}, "axis": {"orient": "left", "offset": -926.3, "title": null, "values": [-22,-17,-12,-7,-2,3,8,13,18], "labelExpr": "'' + datum.value", "domain": false, "grid": false, "tickSize": 8, "tickWidth": 3, "tickColor": "black", "labelFontSize": 14, "labelColor": "#404040", "labelPadding": 10, "labelOverlap": false, "labelFlush": false, "labelBound": false}},
"color": {"field": "s", "type": "nominal", "scale": {"domain": ["Baseline","TG","SNAP Phase I","SNAP Phase II","RR"], "range": ["#4472C4","#FFC000","#00B050","#3B5A26","#FF0000"]}, "legend": null}
},
"layer": [
{"mark": {"type": "errorbar", "ticks": true, "thickness": 1.5, "size": 6}, "encoding": {"yError": {"field": "e"}}},
{"mark": {"type": "line", "strokeWidth": 3}},
{"mark": {"type": "point", "filled": true, "size": 28, "opacity": 1}}
]},
{"data": {"values": [{"s": "SNAP Phase I"}]}, "encoding": {"y": {"datum": 14.88}, "color": {"field": "s", "type": "nominal", "legend": null}}, "layer": [
{"mark": {"type": "rule", "strokeWidth": 3}, "encoding": {"x": {"datum": -92.5}, "x2": {"datum": -81.3}}},
{"mark": {"type": "point", "filled": true, "size": 28, "opacity": 1}, "encoding": {"x": {"datum": -86.9}}},
{"mark": {"type": "text", "align": "left", "baseline": "middle", "fontSize": 13, "fontWeight": "bold"}, "encoding": {"x": {"datum": -76.7}, "text": {"field": "s"}, "color": {"value": "black"}}}
]},
{"data": {"values": [{"s": "SNAP Phase II"}]}, "encoding": {"y": {"datum": 12.64}, "color": {"field": "s", "type": "nominal", "legend": null}}, "layer": [
{"mark": {"type": "rule", "strokeWidth": 3}, "encoding": {"x": {"datum": -92.5}, "x2": {"datum": -81.3}}},
{"mark": {"type": "point", "filled": true, "size": 28, "opacity": 1}, "encoding": {"x": {"datum": -86.9}}},
{"mark": {"type": "text", "align": "left", "baseline": "middle", "fontSize": 13, "fontWeight": "bold"}, "encoding": {"x": {"datum": -76.7}, "text": {"field": "s"}, "color": {"value": "black"}}}
]}
]
},
{
"layer": [
{"data": {"name": "bars"},
"encoding": {
"x": {"field": "s", "type": "nominal", "sort": null, "scale": {"type": "band", "domain": ["Baseline","TG","SNAP Phase I","SNAP Phase II"], "range": [68.3, 328], "paddingInner": 0.2, "paddingOuter": 0.14, "align": 0.657}, "axis": {"orient": "bottom", "offset": -40, "title": null, "domain": true, "domainColor": "black", "domainWidth": 2.5, "ticks": false, "labels": false}},
"y": {"field": "m", "type": "quantitative", "scale": {"domain": [0, 9], "range": [644, 385], "nice": false, "zero": false}, "axis": {"orient": "left", "offset": -68.3, "title": null, "values": [0,1,2,3,4,5,6,7,8,9], "labelExpr": "'' + datum.value", "domain": true, "domainColor": "black", "domainWidth": 2.5, "ticks": true, "tickSize": 4, "tickWidth": 1.5, "tickColor": "black", "labelFontSize": 20, "labelColor": "#404040", "labelPadding": 2, "grid": false}}
},
"layer": [
{"mark": {"type": "bar"}, "encoding": {"color": {"field": "s", "type": "nominal", "scale": {"domain": ["Baseline","TG","SNAP Phase I","SNAP Phase II","RR"], "range": ["#4472C4","#FFC000","#00B050","#3B5A26","#FF0000"]}, "legend": null}}},
{"mark": {"type": "errorbar", "ticks": true, "thickness": 2.5, "size": 8, "color": "black"}, "encoding": {"yError": {"field": "e"}}}
]},
{"data": {"values": [{}]}, "layer": [
{"mark": {"type": "rule", "strokeWidth": 2, "color": "black"}, "encoding": {"x": {"datum": "Baseline", "bandPosition": 0.35}, "x2": {"datum": "TG", "bandPosition": 0.35}, "y": {"datum": 8}}},
{"mark": {"type": "rule", "strokeWidth": 2, "color": "black"}, "encoding": {"x": {"datum": "TG", "bandPosition": 0.44}, "x2": {"datum": "SNAP Phase I", "bandPosition": 0.4}, "y": {"datum": 8}}},
{"mark": {"type": "rule", "strokeWidth": 2, "color": "black"}, "encoding": {"x": {"datum": "SNAP Phase I", "bandPosition": 0.5}, "x2": {"datum": "SNAP Phase II", "bandPosition": 0.52}, "y": {"datum": 8}}},
{"mark": {"type": "rule", "strokeWidth": 2, "color": "black"}, "encoding": {"x": {"datum": "TG", "bandPosition": 0.48}, "x2": {"datum": "SNAP Phase II", "bandPosition": 0.41}, "y": {"datum": 8.71}}},
{"mark": {"type": "text", "text": "*\u2009*\u2009*", "font": "DejaVu Sans", "fontSize": 24, "fontWeight": "bold", "align": "center", "baseline": "alphabetic", "color": "black"}, "encoding": {"x": {"datum": "Baseline", "bandPosition": 1.04}, "y": {"datum": 7.73}}},
{"mark": {"type": "text", "text": "*\u2009*", "font": "DejaVu Sans", "fontSize": 24, "fontWeight": "bold", "align": "center", "baseline": "alphabetic", "color": "black"}, "encoding": {"x": {"datum": "TG", "bandPosition": 1.09}, "y": {"datum": 7.73}}},
{"mark": {"type": "text", "text": "*\u2009*\u2009*\u2009*", "font": "DejaVu Sans", "fontSize": 24, "fontWeight": "bold", "align": "center", "baseline": "alphabetic", "color": "black"}, "encoding": {"x": {"datum": "SNAP Phase I", "bandPosition": 1.19}, "y": {"datum": 7.73}}},
{"mark": {"type": "text", "text": "*", "font": "DejaVu Sans", "fontSize": 24, "fontWeight": "bold", "align": "center", "baseline": "alphabetic", "color": "black"}, "encoding": {"x": {"datum": "SNAP Phase I", "bandPosition": 0.48}, "y": {"datum": 8.46}}},
{"mark": {"type": "text", "text": "D", "fontSize": 28, "fontWeight": "bold", "align": "center", "baseline": "middle", "color": "black"}, "encoding": {"x": {"datum": "Baseline", "bandPosition": -1.157}, "y": {"datum": 8.86}}},
{"mark": {"type": "text", "text": "Normalized Current Density", "fontSize": 17, "fontWeight": "bold", "align": "center", "baseline": "middle", "angle": 270, "color": "black"}, "encoding": {"x": {"datum": "Baseline", "bandPosition": -1.118}, "y": {"datum": 4.19}}},
{"mark": {"type": "text", "text": "at -80mV", "fontSize": 17, "fontWeight": "bold", "align": "center", "baseline": "middle", "angle": 270, "color": "black"}, "encoding": {"x": {"datum": "Baseline", "bandPosition": -0.784}, "y": {"datum": 5.28}}},
{"mark": {"type": "text", "text": "Baseline", "fontSize": 12.5, "fontWeight": "bold", "align": "center", "baseline": "middle", "color": "black"}, "encoding": {"x": {"datum": "Baseline"}, "y": {"datum": -0.66}}},
{"mark": {"type": "text", "text": "TG", "fontSize": 12.5, "fontWeight": "bold", "align": "center", "baseline": "middle", "color": "black"}, "encoding": {"x": {"datum": "TG"}, "y": {"datum": -0.66}}},
{"mark": {"type": "text", "text": "SNAP", "fontSize": 12.5, "fontWeight": "bold", "align": "center", "baseline": "middle", "color": "black"}, "encoding": {"x": {"datum": "SNAP Phase I"}, "y": {"datum": -0.35}}},
{"mark": {"type": "text", "text": "Phase I", "fontSize": 12.5, "fontWeight": "bold", "align": "center", "baseline": "middle", "color": "black"}, "encoding": {"x": {"datum": "SNAP Phase I"}, "y": {"datum": -1.0}}},
{"mark": {"type": "text", "text": "SNAP", "fontSize": 12.5, "fontWeight": "bold", "align": "center", "baseline": "middle", "color": "black"}, "encoding": {"x": {"datum": "SNAP Phase II"}, "y": {"datum": -0.47}}},
{"mark": {"type": "text", "text": "Phase II", "fontSize": 12.5, "fontWeight": "bold", "align": "center", "baseline": "middle", "color": "black"}, "encoding": {"x": {"datum": "SNAP Phase II"}, "y": {"datum": -1.12}}}
]}
]
},
{
"layer": [
{"data": {"values": [{}]}, "layer": [
{"mark": {"type": "rule", "strokeWidth": 3, "color": "black"}, "encoding": {"x": {"datum": -100}, "x2": {"datum": 70}, "y": {"datum": 0}}},
{"mark": {"type": "rule", "strokeWidth": 3, "color": "black"}, "encoding": {"x": {"datum": 0}, "y": {"datum": -10}, "y2": {"datum": 10}}},
{"mark": {"type": "text", "text": "E", "fontSize": 27, "fontWeight": "bold", "align": "center", "baseline": "middle", "color": "black"}, "encoding": {"x": {"datum": -92.9}, "y": {"datum": 13.18}}},
{"mark": {"type": "text", "text": "(pA/pF)", "fontSize": 14, "fontWeight": "bold", "align": "center", "baseline": "middle", "angle": 270, "color": "black"}, "encoding": {"x": {"datum": 14.1}, "y": {"datum": 7.6}}},
{"mark": {"type": "text", "text": "(mV)", "fontSize": 15, "fontWeight": "bold", "align": "center", "baseline": "middle", "color": "black"}, "encoding": {"x": {"datum": 64.6}, "y": {"datum": -2.7}}}
]},
{"data": {"name": "trace"}, "transform": [{"filter": {"field": "p", "equal": "E1"}}],
"encoding": {
"x": {"field": "v", "type": "quantitative", "scale": {"domain": [-100, 70], "range": [336.4, 565.2], "nice": false, "zero": false}, "axis": {"orient": "bottom", "offset": -130.35, "title": null, "values": [-100,-80,-60,-40,-20,20,40,60], "labelExpr": "'' + datum.value", "domain": false, "grid": false, "tickSize": 6, "tickWidth": 2.5, "tickColor": "black", "labelFontSize": 11, "labelColor": "#595959", "labelPadding": 6, "labelOverlap": false, "labelFlush": false, "labelBound": false}},
"y": {"field": "i", "type": "quantitative", "scale": {"domain": [-10, 10], "range": [674, 439.3], "nice": false, "zero": false}, "axis": {"orient": "left", "offset": -474, "title": null, "values": [-10,-8,-6,-4,-2,2,4,6,8,10], "labelExpr": "'' + datum.value", "domain": false, "grid": false, "tickSize": 6, "tickWidth": 2.5, "tickColor": "black", "labelFontSize": 11, "labelColor": "#595959", "labelPadding": 5, "labelOverlap": false, "labelFlush": false, "labelBound": false}},
"color": {"field": "s", "type": "nominal", "scale": {"domain": ["Baseline","TG","SNAP Phase I","SNAP Phase II","RR"], "range": ["#4472C4","#FFC000","#00B050","#3B5A26","#FF0000"]}, "legend": null}
},
"mark": {"type": "line", "strokeWidth": 3}},
{"data": {"values": [{"s": "Baseline"}]}, "encoding": {"y": {"datum": 8.61}, "color": {"field": "s", "type": "nominal", "legend": null}}, "layer": [
{"mark": {"type": "rule", "strokeWidth": 3}, "encoding": {"x": {"datum": -96.1}, "x2": {"datum": -81.2}}},
{"mark": {"type": "text", "align": "left", "baseline": "middle", "fontSize": 14, "fontWeight": "bold"}, "encoding": {"x": {"datum": -72.6}, "text": {"field": "s"}, "color": {"value": "black"}}}
]},
{"data": {"values": [{"s": "TG"}]}, "encoding": {"y": {"datum": 7.11}, "color": {"field": "s", "type": "nominal", "legend": null}}, "layer": [
{"mark": {"type": "rule", "strokeWidth": 3}, "encoding": {"x": {"datum": -96.1}, "x2": {"datum": -81.2}}},
{"mark": {"type": "text", "align": "left", "baseline": "middle", "fontSize": 14, "fontWeight": "bold"}, "encoding": {"x": {"datum": -77.5}, "text": {"field": "s"}, "color": {"value": "black"}}}
]}
]
},
{
"layer": [
{"data": {"values": [{}]}, "layer": [
{"mark": {"type": "rule", "strokeWidth": 3, "color": "black"}, "encoding": {"x": {"datum": -100}, "x2": {"datum": 70}, "y": {"datum": 0}}},
{"mark": {"type": "rule", "strokeWidth": 3, "color": "black"}, "encoding": {"x": {"datum": 0}, "y": {"datum": -10}, "y2": {"datum": 10}}},
{"mark": {"type": "rule", "strokeWidth": 2.5, "color": "black"}, "encoding": {"x": {"datum": -254.6}, "x2": {"datum": 252.1}, "y": {"datum": 11.81}, "y2": {"datum": 11.21}}},
{"mark": {"type": "text", "text": "Representative BV2 Conductance", "fontSize": 21, "fontWeight": "bold", "align": "center", "baseline": "middle", "color": "black"}, "encoding": {"x": {"datum": -18.4}, "y": {"datum": 12.88}}},
{"mark": {"type": "text", "text": "(pA/pF)", "fontSize": 14, "fontWeight": "bold", "align": "center", "baseline": "middle", "angle": 270, "color": "black"}, "encoding": {"x": {"datum": 15.9}, "y": {"datum": 7.71}}},
{"mark": {"type": "text", "text": "(mV)", "fontSize": 15, "fontWeight": "bold", "align": "center", "baseline": "middle", "color": "black"}, "encoding": {"x": {"datum": 65.1}, "y": {"datum": -2.68}}}
]},
{"data": {"name": "trace"}, "transform": [{"filter": {"field": "p", "equal": "E2"}}],
"encoding": {
"x": {"field": "v", "type": "quantitative", "scale": {"domain": [-100, 70], "range": [582.5, 810.6], "nice": false, "zero": false}, "axis": {"orient": "bottom", "offset": -128.3, "title": null, "values": [-100,-80,-60,-40,-20,20,40,60], "labelExpr": "'' + datum.value", "domain": false, "grid": false, "tickSize": 6, "tickWidth": 2.5, "tickColor": "black", "labelFontSize": 11, "labelColor": "#595959", "labelPadding": 6, "labelOverlap": false, "labelFlush": false, "labelBound": false}},
"y": {"field": "i", "type": "quantitative", "scale": {"domain": [-10, 10], "range": [675.7, 441.7], "nice": false, "zero": false}, "axis": {"orient": "left", "offset": -719.7, "title": null, "values": [-10,-8,-6,-4,-2,2,4,6,8,10], "labelExpr": "'' + datum.value", "domain": false, "grid": false, "tickSize": 6, "tickWidth": 2.5, "tickColor": "black", "labelFontSize": 11, "labelColor": "#595959", "labelPadding": 5, "labelOverlap": false, "labelFlush": false, "labelBound": false}},
"color": {"field": "s", "type": "nominal", "scale": {"domain": ["Baseline","TG","SNAP Phase I","SNAP Phase II","RR"], "range": ["#4472C4","#FFC000","#00B050","#3B5A26","#FF0000"]}, "legend": null}
},
"mark": {"type": "line", "strokeWidth": 3}},
{"data": {"values": [{"s": "TG"}]}, "encoding": {"y": {"datum": 9.0}, "color": {"field": "s", "type": "nominal", "legend": null}}, "layer": [
{"mark": {"type": "rule", "strokeWidth": 3}, "encoding": {"x": {"datum": -110.8}, "x2": {"datum": -95.9}}},
{"mark": {"type": "text", "align": "left", "baseline": "middle", "fontSize": 14, "fontWeight": "bold"}, "encoding": {"x": {"datum": -88.2}, "text": {"field": "s"}, "color": {"value": "black"}}}
]},
{"data": {"values": [{"s": "SNAP Phase II"}]}, "encoding": {"y": {"datum": 7.58}, "color": {"field": "s", "type": "nominal", "legend": null}}, "layer": [
{"mark": {"type": "rule", "strokeWidth": 3}, "encoding": {"x": {"datum": -110.8}, "x2": {"datum": -95.9}}},
{"mark": {"type": "text", "align": "left", "baseline": "middle", "fontSize": 14, "fontWeight": "bold"}, "encoding": {"x": {"datum": -88.2}, "text": {"field": "s"}, "color": {"value": "black"}}}
]}
]
},
{
"layer": [
{"data": {"values": [{}]}, "layer": [
{"mark": {"type": "rule", "strokeWidth": 3, "color": "black"}, "encoding": {"x": {"datum": -100}, "x2": {"datum": 70}, "y": {"datum": 0}}},
{"mark": {"type": "rule", "strokeWidth": 3, "color": "black"}, "encoding": {"x": {"datum": 0}, "y": {"datum": -10}, "y2": {"datum": 10}}},
{"mark": {"type": "text", "text": "(pA/pF)", "fontSize": 14, "fontWeight": "bold", "align": "center", "baseline": "middle", "angle": 270, "color": "black"}, "encoding": {"x": {"datum": 13.6}, "y": {"datum": 7.58}}},
{"mark": {"type": "text", "text": "(mV)", "fontSize": 15, "fontWeight": "bold", "align": "center", "baseline": "middle", "color": "black"}, "encoding": {"x": {"datum": 64.6}, "y": {"datum": -2.68}}}
]},
{"data": {"name": "trace"}, "transform": [{"filter": {"field": "p", "equal": "E3"}}],
"encoding": {
"x": {"field": "v", "type": "quantitative", "scale": {"domain": [-100, 70], "range": [829.6, 1057.2], "nice": false, "zero": false}, "axis": {"orient": "bottom", "offset": -128.3, "title": null, "values": [-100,-80,-60,-40,-20,20,40,60], "labelExpr": "'' + datum.value", "domain": false, "grid": false, "tickSize": 6, "tickWidth": 2.5, "tickColor": "black", "labelFontSize": 11, "labelColor": "#595959", "labelPadding": 6, "labelOverlap": false, "labelFlush": false, "labelBound": false}},
"y": {"field": "i", "type": "quantitative", "scale": {"domain": [-10, 10], "range": [675.7, 441.7], "nice": false, "zero": false}, "axis": {"orient": "left", "offset": -966.5, "title": null, "values": [-10,-8,-6,-4,-2,2,4,6,8,10], "labelExpr": "'' + datum.value", "domain": false, "grid": false, "tickSize": 6, "tickWidth": 2.5, "tickColor": "black", "labelFontSize": 11, "labelColor": "#595959", "labelPadding": 5, "labelOverlap": false, "labelFlush": false, "labelBound": false}},
"color": {"field": "s", "type": "nominal", "scale": {"domain": ["Baseline","TG","SNAP Phase I","SNAP Phase II","RR"], "range": ["#4472C4","#FFC000","#00B050","#3B5A26","#FF0000"]}, "legend": null}
},
"mark": {"type": "line", "strokeWidth": 3}},
{"data": {"values": [{"s": "SNAP Phase II"}]}, "encoding": {"y": {"datum": 8.58}, "color": {"field": "s", "type": "nominal", "legend": null}}, "layer": [
{"mark": {"type": "rule", "strokeWidth": 3}, "encoding": {"x": {"datum": -97.5}, "x2": {"datum": -83.5}}},
{"mark": {"type": "text", "align": "left", "baseline": "middle", "fontSize": 14, "fontWeight": "bold"}, "encoding": {"x": {"datum": -79.8}, "text": {"field": "s"}, "color": {"value": "black"}}}
]},
{"data": {"values": [{"s": "RR"}]}, "encoding": {"y": {"datum": 7.15}, "color": {"field": "s", "type": "nominal", "legend": null}}, "layer": [
{"mark": {"type": "rule", "strokeWidth": 3}, "encoding": {"x": {"datum": -97.5}, "x2": {"datum": -83.5}}},
{"mark": {"type": "text", "align": "left", "baseline": "middle", "fontSize": 14, "fontWeight": "bold"}, "encoding": {"x": {"datum": -79.8}, "text": {"field": "s"}, "color": {"value": "black"}}}
]}
]
}
]
}
